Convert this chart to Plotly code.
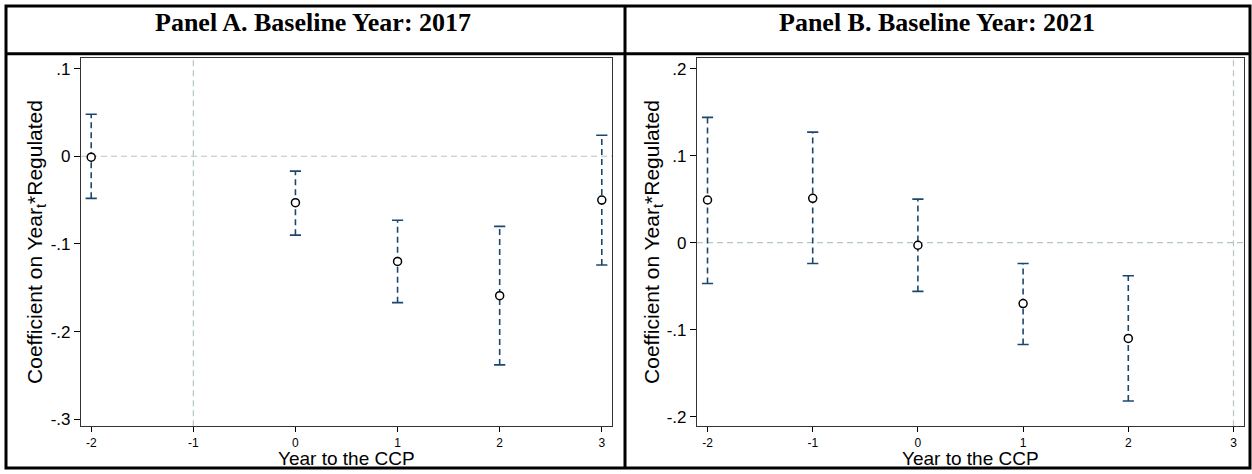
import plotly.graph_objects as go

W, H = 1252, 474

# ---- data ----
years = [-2, -1, 0, 1, 2, 3]

a_x = [-2, 0, 1, 2, 3]
a_coef = [-0.001, -0.053, -0.120, -0.159, -0.050]
a_hi = [0.048, -0.017, -0.073, -0.080, 0.024]
a_lo = [-0.048, -0.090, -0.167, -0.238, -0.124]

b_x = [-2, -1, 0, 1, 2]
b_coef = [0.049, 0.051, -0.003, -0.070, -0.110]
b_hi = [0.144, 0.127, 0.050, -0.024, -0.038]
b_lo = [-0.047, -0.024, -0.056, -0.117, -0.182]

a_yticks = [0.1, 0, -0.1, -0.2, -0.3]
a_yticktext = [".1", "0", "-.1", "-.2", "-.3"]
b_yticks = [0.2, 0.1, 0, -0.1, -0.2]
b_yticktext = [".2", ".1", "0", "-.1", "-.2"]
xticktext = ["-2", "-1", "0", "1", "2", "3"]

titles = ["Panel A. Baseline Year: 2017", "Panel B. Baseline Year: 2021"]
ytitle = "Coefficient on Year<sub>t</sub>*Regulated"
xtitle = "Year to the CCP"
a_ref_x = -1
b_ref_x = 3

NAVY = "#1a476f"
REF = "#b4c7c4"

def px(x):
    return x / W

def py(y):
    return 1 - y / H

fig = go.Figure()

def add_panel(xs, coef, hi, lo, xa, ya):
    lx, ly = [], []
    for x, h, l in zip(xs, hi, lo):
        lx += [x, x, None]
        ly += [l, h, None]
    fig.add_trace(go.Scatter(x=lx, y=ly, mode="lines", xaxis=xa, yaxis=ya,
                             line=dict(color=NAVY, width=1.6, dash="6px,4px"),
                             hoverinfo="skip", showlegend=False))
    fig.add_trace(go.Scatter(x=xs + xs, y=hi + lo, mode="markers", xaxis=xa, yaxis=ya,
                             marker=dict(symbol="line-ew", size=8,
                                         line=dict(color=NAVY, width=1.6)),
                             showlegend=False))
    fig.add_trace(go.Scatter(x=xs, y=coef, mode="markers", xaxis=xa, yaxis=ya,
                             marker=dict(symbol="circle", size=8, color="white",
                                         line=dict(color="black", width=1.5)),
                             showlegend=False))

add_panel(a_x, a_coef, a_hi, a_lo, "x", "y")
add_panel(b_x, b_coef, b_hi, b_lo, "x2", "y2")

top, bot = 58, 429
ydom = [py(bot), py(top)]
xdomA = [px(81), px(612)]
xdomB = [px(697), px(1244)]

tickfont_y = dict(family="Liberation Sans, Arial", size=17, color="black")
tickfont_x = dict(family="Liberation Sans, Arial", size=12, color="black")

def xaxis(dom):
    return dict(domain=dom, range=[-2.1, 3.1], tickvals=years, ticktext=xticktext,
                ticks="outside", ticklen=5, tickcolor="black", tickwidth=1,
                showline=True, linecolor="#333333", linewidth=1.2, mirror=True,
                showgrid=False, zeroline=False, tickfont=tickfont_x)

def yaxis(rng, tv, tt):
    return dict(domain=ydom, range=rng, tickvals=tv, ticktext=tt,
                ticks="outside", ticklen=6, tickcolor="black", tickwidth=1,
                showline=True, linecolor="#333333", linewidth=1.2, mirror=True,
                showgrid=False, zeroline=False, tickfont=tickfont_y)

xa = xaxis(xdomA); xa["anchor"] = "y"
xb = xaxis(xdomB); xb["anchor"] = "y2"
ya = yaxis([-0.308, 0.1125], a_yticks, a_yticktext); ya["anchor"] = "x"
yb = yaxis([-0.211, 0.2126], b_yticks, b_yticktext); yb["anchor"] = "x2"

shapes = []
# reference lines
shapes.append(dict(type="line", xref="x", yref="y domain", x0=a_ref_x, x1=a_ref_x, y0=0, y1=1,
                   line=dict(color=REF, width=1.2, dash="6px,4px"), layer="below"))
shapes.append(dict(type="line", xref="x domain", yref="y", x0=0, x1=1, y0=0, y1=0,
                   line=dict(color=REF, width=1.2, dash="6px,4px"), layer="below"))
shapes.append(dict(type="line", xref="x2", yref="y2 domain", x0=b_ref_x, x1=b_ref_x, y0=0, y1=1,
                   line=dict(color=REF, width=1.2, dash="6px,4px"), layer="below"))
shapes.append(dict(type="line", xref="x2 domain", yref="y2", x0=0, x1=1, y0=0, y1=0,
                   line=dict(color=REF, width=1.2, dash="6px,4px"), layer="below"))
# table borders
blk = dict(color="black", width=3)
shapes.append(dict(type="rect", xref="paper", yref="paper", x0=px(6), x1=px(1250), y0=py(471), y1=py(6), line=blk))
shapes.append(dict(type="line", xref="paper", yref="paper", x0=px(6), x1=px(1250), y0=py(54), y1=py(54), line=blk))
shapes.append(dict(type="line", xref="paper", yref="paper", x0=px(625), x1=px(625), y0=py(471), y1=py(6), line=blk))

ann = []
for t, cx in zip(titles, [313, 937]):
    ann.append(dict(text="<b>%s</b>" % t, x=px(cx), y=py(23), xref="paper", yref="paper",
                    showarrow=False, xanchor="center", yanchor="middle",
                    font=dict(family="Liberation Serif, Times New Roman", size=26, color="black")))
for cx in [36, 653]:
    ann.append(dict(text=ytitle, x=px(cx), y=py((top + bot) / 2), xref="paper", yref="paper",
                    showarrow=False, textangle=-90, xanchor="center", yanchor="middle",
                    font=dict(family="Liberation Sans, Arial", size=21, color="black")))
for cx in [(81 + 612) / 2, (697 + 1244) / 2]:
    ann.append(dict(text=xtitle, x=px(cx), y=py(461), xref="paper", yref="paper",
                    showarrow=False, xanchor="center", yanchor="middle",
                    font=dict(family="Liberation Sans, Arial", size=19, color="black")))

fig.update_layout(width=W, height=H, margin=dict(l=0, r=0, t=0, b=0),
                  paper_bgcolor="white", plot_bgcolor="white",
                  xaxis=xa, yaxis=ya, xaxis2=xb, yaxis2=yb,
                  shapes=shapes, annotations=ann, showlegend=False)

fig.write_html("out.html", config={"displayModeBar": False},
               post_script="document.body.style.margin='0';document.body.style.overflow='hidden';")
